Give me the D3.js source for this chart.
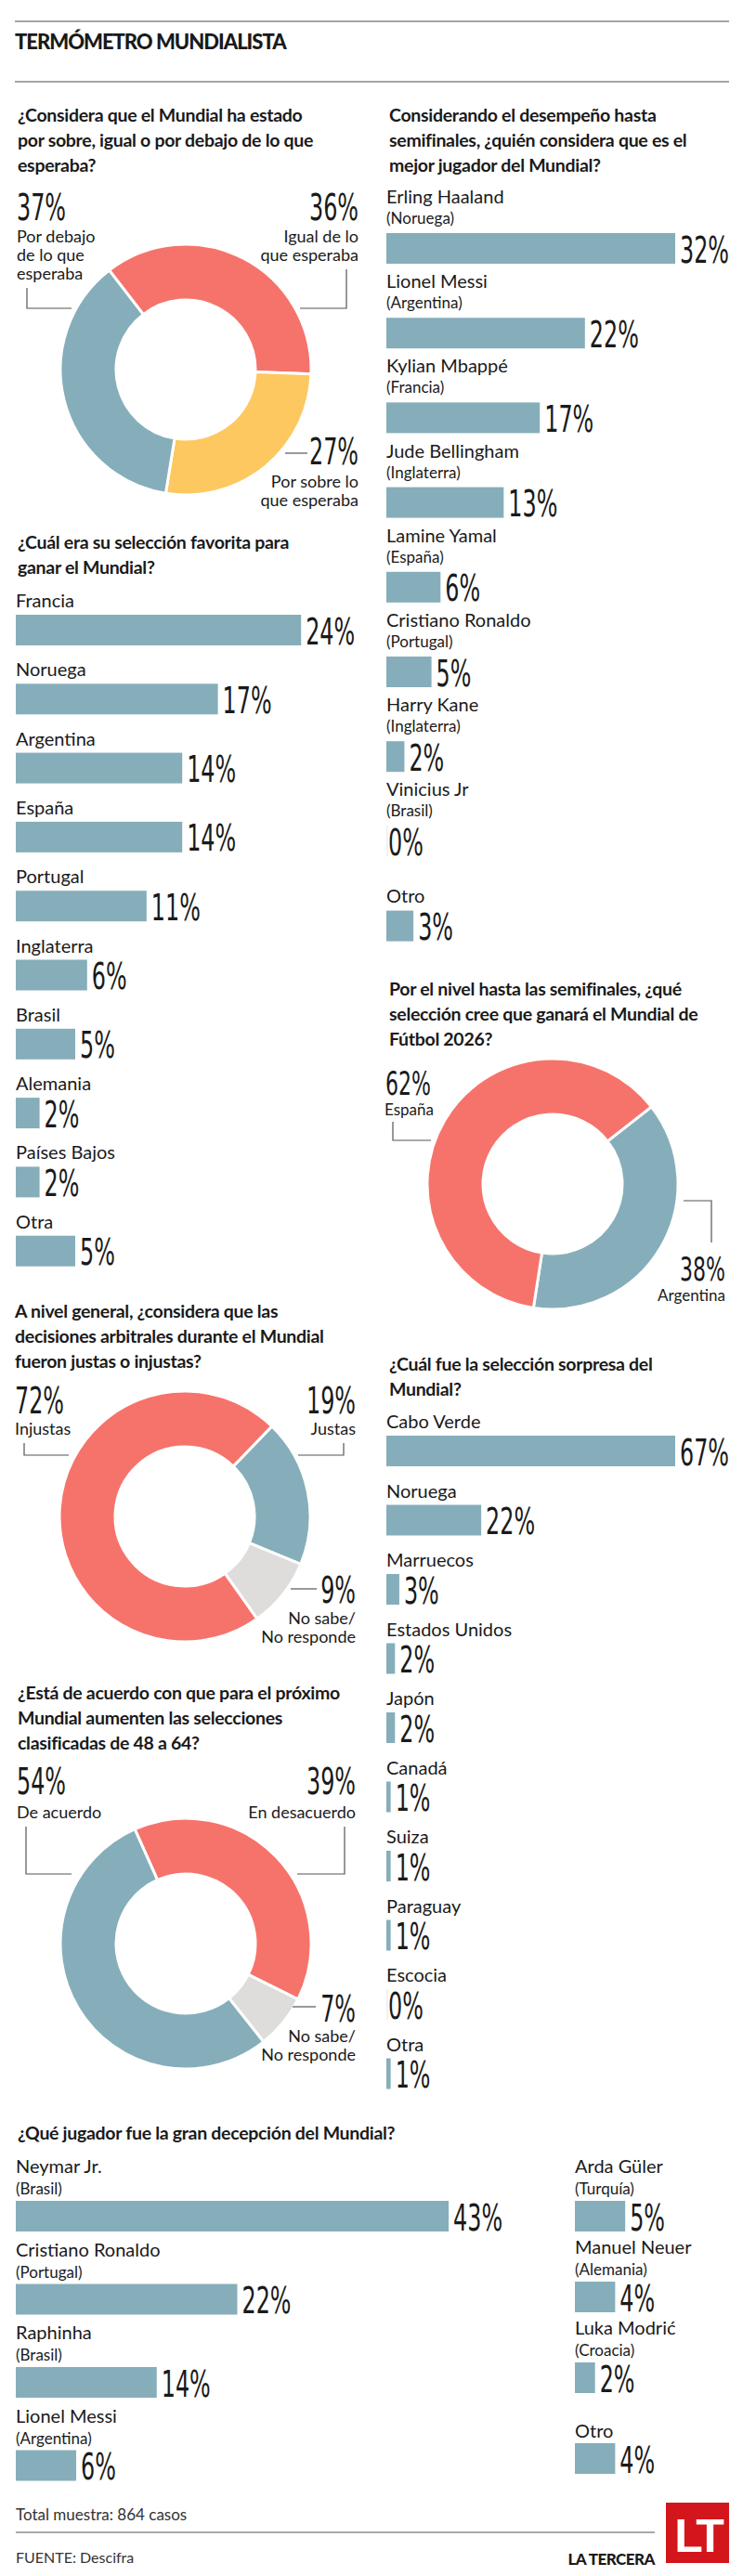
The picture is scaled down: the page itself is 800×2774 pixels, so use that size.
<!DOCTYPE html>
<html><head><meta charset="utf-8">
<script src="https://cdn.jsdelivr.net/npm/d3@7"></script>
<style>body{margin:0;background:#fff}svg{display:block}</style>
</head><body>
<svg id="c" width="800" height="2774"></svg>
<script>
// ---------- DATA ----------
const q1Labels = ["Igual de lo que esperaba","Por sobre lo que esperaba","Por debajo de lo que esperaba"];
const q1Values = [36,27,37];

const bestNames = ["Erling Haaland","Lionel Messi","Kylian Mbappé","Jude Bellingham","Lamine Yamal","Cristiano Ronaldo","Harry Kane","Vinicius Jr","Otro"];
const bestSubs = ["(Noruega)","(Argentina)","(Francia)","(Inglaterra)","(España)","(Portugal)","(Inglaterra)","(Brasil)",""];
const bestValues = [32,22,17,13,6,5,2,0,3];

const favNames = ["Francia","Noruega","Argentina","España","Portugal","Inglaterra","Brasil","Alemania","Países Bajos","Otra"];
const favValues = [24,17,14,14,11,6,5,2,2,5];

const winLabels = ["Argentina","España"];
const winValues = [38,62];

const refLabels = ["Justas","No sabe/No responde","Injustas"];
const refValues = [19,9,72];

const surpNames = ["Cabo Verde","Noruega","Marruecos","Estados Unidos","Japón","Canadá","Suiza","Paraguay","Escocia","Otra"];
const surpValues = [67,22,3,2,2,1,1,1,0,1];

const expLabels = ["En desacuerdo","No sabe/No responde","De acuerdo"];
const expValues = [39,7,54];

const decLeftNames = ["Neymar Jr.","Cristiano Ronaldo","Raphinha","Lionel Messi"];
const decLeftSubs = ["(Brasil)","(Portugal)","(Brasil)","(Argentina)"];
const decLeftValues = [43,22,14,6];
const decRightNames = ["Arda Güler","Manuel Neuer","Luka Modrić","Otro"];
const decRightSubs = ["(Turquía)","(Alemania)","(Croacia)",""];
const decRightValues = [5,4,2,4];

// ---------- STYLE ----------
const BLUE="#86aeba", RED="#f6736b", YEL="#fcc85f", GREY="#dedddb", INK="#1a1a1a", LINE="#555";
const SANS="Lato, 'Noto Sans', sans-serif", NARROW="'Liberation Sans Narrow','DejaVu Sans Condensed',sans-serif";
const svg=d3.select("#c");

function text(x,y,s,o={}){
  return svg.append("text").attr("x",x).attr("y",y).text(s)
    .attr("font-family",o.f||SANS).attr("font-size",o.size||18)
    .attr("font-weight",o.w||400).attr("fill",o.fill||INK)
    .attr("text-anchor",o.anchor||"start").attr("letter-spacing",o.ls||0);
}
function pct(x,y,v,anchor="start",size=39){
  const g=svg.append("g").attr("transform",`translate(${x},${y}) scale(0.68,1)`);
  g.append("text").text(v+"%").attr("font-family",NARROW).attr("font-size",size)
   .attr("fill",INK).attr("text-anchor",anchor).attr("y",size*0.36);
}
function title(x,y0,lines){ lines.forEach((l,i)=>text(x,y0+i*27,l,{size:19.5,w:700,ls:-0.3})); }
function leader(pts){ svg.append("path").attr("d",d3.line()(pts)).attr("fill","none").attr("stroke",LINE).attr("stroke-width",1.2); }

// header
svg.append("line").attr("x1",16).attr("x2",785).attr("y1",23).attr("y2",23).attr("stroke","#888").attr("stroke-width",1.5);
text(16,53,"TERMÓMETRO MUNDIALISTA",{size:22,w:900,ls:-1});
svg.append("line").attr("x1",16).attr("x2",785).attr("y1",88).attr("y2",88).attr("stroke","#888").attr("stroke-width",1.5);

// ---------- DONUT helper ----------
function donut(cx,cy,values,colors,startDeg){
  const s=startDeg*Math.PI/180;
  const pie=d3.pie().sort(null).startAngle(s).endAngle(s+2*Math.PI)(values);
  const arc=d3.arc().innerRadius(75).outerRadius(135);
  svg.append("g").attr("transform",`translate(${cx},${cy})`).selectAll("path").data(pie).join("path")
    .attr("d",arc).attr("fill",(d,i)=>colors[i]).attr("stroke","#fff").attr("stroke-width",3);
}

// Q1
title(19,131,["¿Considera que el Mundial ha estado","por sobre, igual o por debajo de lo que","esperaba?"]);
donut(200,398,q1Values,[RED,YEL,BLUE],-37.6);
pct(18,223,q1Values[2]);
["Por debajo","de lo que","esperaba"].forEach((l,i)=>text(18,261+i*20,l));
leader([[29,310],[29,332],[77,332]]);
pct(386,223,q1Values[0],"end");
["Igual de lo","que esperaba"].forEach((l,i)=>text(386,261+i*20,l,{anchor:"end"}));
leader([[373,290],[373,332],[323,332]]);
pct(386,486,q1Values[1],"end");
leader([[307,488],[331,488]]);
["Por sobre lo","que esperaba"].forEach((l,i)=>text(386,525+i*20,l,{anchor:"end"}));

// ---------- BAR helper ----------
function bars(x0,unit,names,subs,values,tops,opt){
  const xs=d3.scaleLinear().domain([0,1]).range([0,unit]);
  names.forEach((n,i)=>{
    const t=tops[i];
    const hasSub=subs&&subs[i];
    const nameY = (subs && !hasSub) ? t+opt.sub : t;
    text(x0,nameY+7,n,{size:20});
    if(hasSub) text(x0,t+opt.sub+6,subs[i],{size:17});
    const by=t+opt.bar;
    const w=xs(values[i]);
    if(values[i]>0) svg.append("rect").attr("x",x0).attr("y",by).attr("width",w).attr("height",opt.h).attr("fill",BLUE);
    else svg.append("line").attr("x1",x0+1).attr("x2",x0+1).attr("y1",by).attr("y2",by+opt.h).attr("stroke","#e3e3e3");
    pct(x0+w+(values[i]>0?5:2),by+opt.h/2+1,values[i]);
  });
}

// Best player
title(419,131,["Considerando el desempeño hasta","semifinales, ¿quién considera que es el","mejor jugador del Mundial?"]);
bars(416,311/32,bestNames,bestSubs,bestValues,d3.range(9).map(i=>212+i*91.2),{sub:23,bar:39,h:33});

// Favourite team
title(19,591,["¿Cuál era su selección favorita para","ganar el Mundial?"]);
bars(17,12.8,favNames,null,favValues,d3.range(10).map(i=>647+i*74.3),{sub:0,bar:15,h:33});

// 2026 winner
title(419,1072,["Por el nivel hasta las semifinales, ¿qué","selección cree que ganará el Mundial de","Fútbol 2026?"]);
donut(595,1275,winValues,[BLUE,RED],52);
pct(415,1166,winValues[1],"start",36);
text(414,1201,"España",{size:17});
leader([[423,1208],[423,1228],[464,1228]]);
pct(781,1366,winValues[0],"end",36);
text(781,1401,"Argentina",{size:17,anchor:"end"});
leader([[736,1293],[766,1293],[766,1338]]);

// Referees
title(16,1419,["A nivel general, ¿considera que las","decisiones arbitrales durante el Mundial","fueron justas o injustas?"]);
donut(199,1633,refValues,[BLUE,GREY,RED],44);
pct(16,1508,refValues[2]);
text(16,1545,"Injustas");
leader([[26,1554],[26,1567],[74,1567]]);
pct(383,1508,refValues[0],"end");
text(383,1545,"Justas",{anchor:"end"});
leader([[370,1554],[370,1567],[321,1567]]);
pct(383,1712,refValues[1],"end");
leader([[313,1711],[341,1711]]);
text(383,1749,"No sabe/",{anchor:"end"});
text(383,1769,"No responde",{anchor:"end"});

// Surprise
title(419,1476,["¿Cuál fue la selección sorpresa del","Mundial?"]);
bars(416,311/67,surpNames,null,surpValues,d3.range(10).map(i=>1531+i*74.5),{sub:0,bar:15,h:33});

// Expansion
title(19,1830,["¿Está de acuerdo con que para el próximo","Mundial aumenten las selecciones","clasificadas de 48 a 64?"]);
donut(200,2093,expValues,[RED,GREY,BLUE],-24);
pct(18,1918,expValues[2]);
text(18,1958,"De acuerdo");
leader([[28,1967],[28,2018],[77,2018]]);
pct(383,1918,expValues[0],"end");
text(383,1958,"En desacuerdo",{anchor:"end"});
leader([[371,1967],[371,2018],[320,2018]]);
pct(383,2163,expValues[1],"end");
leader([[315,2161],[340,2161]]);
text(383,2199,"No sabe/",{anchor:"end"});
text(383,2219,"No responde",{anchor:"end"});

// Disappointment
title(19,2304,["¿Qué jugador fue la gran decepción del Mundial?"]);
bars(17,10.84,decLeftNames,decLeftSubs,decLeftValues,d3.range(4).map(i=>2333+i*89.5),{sub:24,bar:37,h:33});
bars(619,10.84,decRightNames,decRightSubs,decRightValues,d3.range(4).map(i=>2333+i*87),{sub:24,bar:37,h:33});

// footer
text(17,2714,"Total muestra: 864 casos",{size:17,fill:"#333"});
svg.append("line").attr("x1",17).attr("x2",705).attr("y1",2727).attr("y2",2727).attr("stroke","#555").attr("stroke-width",1);
text(17,2760,"FUENTE: Descifra",{size:16,fill:"#333"});
text(705,2762,"LA TERCERA",{size:17,w:900,anchor:"end",ls:-0.5});
svg.append("rect").attr("x",717).attr("y",2695).attr("width",68).attr("height",65).attr("fill","#d3161b");
text(751,2748,"LT",{size:50,w:900,fill:"#fff",anchor:"middle",ls:-4,f:"'Liberation Sans',sans-serif"});
</script>
</body></html>
